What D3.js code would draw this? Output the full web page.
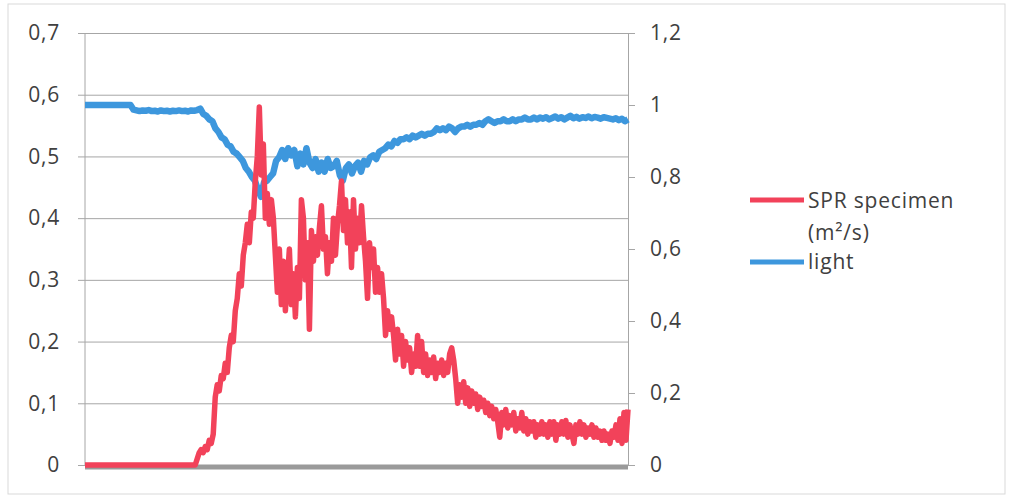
<!DOCTYPE html>
<html><head><meta charset="utf-8">
<script src="https://cdn.jsdelivr.net/npm/d3@7"></script>
<style>
html,body{margin:0;padding:0;background:#fff;}
svg text{font-family:"Open Sans",sans-serif;fill:#404040;letter-spacing:0.8px;}
</style></head>
<body><svg id="c" width="1010" height="497"></svg>
<script>
const leftTicks = [0,0.1,0.2,0.3,0.4,0.5,0.6,0.7];
const rightTicks = [0,0.2,0.4,0.6,0.8,1,1.2];
const seriesNames = ["SPR specimen", "(m²/s)", "light"];

// SPR specimen (m²/s), left axis
const spr = [
0,0,0,0,0,0,0,0,0,0, 0,0,0,0,0,0,0,0,0,0, 0,0,0,0,0,0,0,0,0,0,
0,0,0,0,0,0,0,0,0,0, 0,0,0,0,0,0,0,0,0,0, 0,0,0,0,0,0,
0.01,0.02,0.025,0.02,0.03,0.025,0.04,0.035,0.05,0.11,0.13,0.12,0.145,0.14,0.165,0.15,0.19,0.21,0.20,0.25,
0.27,0.31,0.29,0.34,0.36,0.39,0.36,0.41,0.40,0.46,0.50,0.58,0.47,0.52,0.40,0.44,0.39,0.43,0.40,0.34,
0.28,0.35,0.26,0.33,0.25,0.30,0.35,0.26,0.31,0.24,0.32,0.27,0.43,0.40,0.30,0.36,0.22,0.38,0.33,0.37,
0.34,0.385,0.42,0.35,0.37,0.31,0.36,0.33,0.40,0.34,0.39,0.42,0.46,0.38,0.43,0.36,0.41,0.32,0.43,0.35,
0.40,0.36,0.42,0.37,0.33,0.27,0.36,0.32,0.35,0.28,0.32,0.28,0.31,0.27,0.21,0.25,0.22,0.24,0.21,0.17,
0.22,0.18,0.21,0.16,0.20,0.17,0.19,0.15,0.18,0.16,0.21,0.16,0.20,0.15,0.18,0.145,0.17,0.15,0.175,0.14,
0.165,0.15,0.17,0.145,0.165,0.15,0.18,0.19,0.17,0.14,0.10,0.13,0.11,0.135,0.10,0.125,0.095,0.12,0.10,0.115,
0.09,0.11,0.095,0.105,0.085,0.10,0.08,0.095,0.075,0.09,0.07,0.045,0.085,0.065,0.09,0.06,0.08,0.065,0.085,0.055,
0.075,0.06,0.085,0.055,0.075,0.05,0.07,0.055,0.07,0.045,0.065,0.05,0.07,0.05,0.065,0.045,0.07,0.05,0.07,0.04,
0.065,0.05,0.07,0.05,0.072,0.045,0.065,0.05,0.035,0.065,0.05,0.07,0.05,0.065,0.045,0.06,0.05,0.065,0.045,0.06,
0.045,0.055,0.04,0.055,0.04,0.05,0.035,0.055,0.045,0.065,0.04,0.075,0.035,0.085,0.04,0.09
];

// light, right axis
const light = [
1,1,1,1,1,1,1,1,1,1, 1,1,1,1,1,1,
0.987,0.985,0.983,0.985,0.984,0.986,0.983,0.984,0.982,0.985,0.983,0.984,0.982,0.984,0.983,0.985,0.983,0.984,0.982,0.985,0.984,0.986,
0.99,0.975,0.97,0.96,0.955,0.935,0.925,0.91,0.905,0.89,0.885,0.87,0.865,0.855,0.845,0.825,0.815,0.80,0.79,0.765,
0.745,0.785,0.79,0.80,0.81,0.845,0.855,0.875,0.85,0.88,0.86,0.875,0.83,0.865,0.835,0.88,0.84,0.825,0.85,0.815,
0.84,0.815,0.85,0.825,0.83,0.845,0.805,0.79,0.825,0.835,0.81,0.83,0.84,0.815,0.845,0.835,0.855,0.86,0.85,0.87,
0.875,0.88,0.89,0.885,0.90,0.895,0.905,0.905,0.91,0.905,0.915,0.91,0.915,0.92,0.915,0.92,0.92,0.925,0.935,0.93,
0.935,0.93,0.94,0.935,0.925,0.935,0.94,0.94,0.945,0.94,0.945,0.945,0.95,0.945,0.955,0.96,0.955,0.95,0.955,0.955,
0.96,0.955,0.955,0.96,0.955,0.96,0.96,0.965,0.96,0.96,0.965,0.96,0.965,0.962,0.966,0.96,0.964,0.968,0.962,0.966,
0.96,0.965,0.97,0.963,0.967,0.962,0.966,0.964,0.968,0.963,0.967,0.965,0.962,0.966,0.964,0.962,0.96,0.963,0.958,0.962,
0.955,0.96
];

const svg = d3.select("#c");
const L = 85, R = 628, T = 33, B = 465;

svg.append("rect").attr("x",8).attr("y",4).attr("width",997).attr("height",490)
  .attr("fill","#fff").attr("stroke","#d9d9d9").attr("stroke-width",1);

const x = d3.scaleLinear().domain([0, 1]).range([L, R]);
const yL = d3.scaleLinear().domain([0,0.7]).range([B, T]);
const yR = d3.scaleLinear().domain([0,1.2]).range([B, T]);
const fmt = d => String(+d.toFixed(1)).replace(".", ",");

// gridlines + left axis
const gl = svg.append("g").attr("transform",`translate(${L},0)`)
  .call(d3.axisLeft(yL).tickValues(leftTicks).tickSize(-(R-L)).tickSizeOuter(0).tickPadding(25).tickFormat(fmt));
gl.select(".domain").remove();
gl.selectAll(".tick line").attr("stroke","#a6a6a6").attr("x1",-7);
gl.selectAll(".tick text").attr("font-size",21).attr("fill","#404040").style("font-family","Open Sans");

svg.append("line").attr("x1",L).attr("x2",L).attr("y1",T).attr("y2",B).attr("stroke","#a6a6a6");

// right axis
const gr = svg.append("g").attr("transform",`translate(${R},0)`)
  .call(d3.axisRight(yR).tickValues(rightTicks).tickSize(7).tickSizeOuter(0).tickPadding(15).tickFormat(fmt));
gr.select(".domain").attr("stroke","#a6a6a6");
gr.selectAll(".tick line").attr("stroke","#a6a6a6");
gr.selectAll(".tick text").attr("font-size",21).attr("fill","#404040").style("font-family","Open Sans");

// bottom zero bar
svg.append("line").attr("x1",L).attr("x2",R).attr("y1",B+2).attr("y2",B+2)
  .attr("stroke","#9a9a9a").attr("stroke-width",5);

const lineL = d3.line().x((d,i)=>x(i/(spr.length-1))).y(d=>yL(d));
const lineR = d3.line().x((d,i)=>x(i/(light.length-1))).y(d=>yR(d));

svg.append("path").datum(light).attr("d",lineR).attr("fill","none")
  .attr("stroke","#3d97dd").attr("stroke-width",6.5).attr("stroke-linejoin","round");
svg.append("path").datum(spr).attr("d",lineL).attr("fill","none")
  .attr("stroke","#f2425a").attr("stroke-width",5.5).attr("stroke-linejoin","round");

// legend
const lg = svg.append("g");
lg.append("line").attr("x1",750).attr("x2",804).attr("y1",200).attr("y2",200).attr("stroke","#f2425a").attr("stroke-width",5);
lg.append("text").attr("x",808).attr("y",208).attr("font-size",21).text(seriesNames[0]);
lg.append("text").attr("x",808).attr("y",240).attr("font-size",21).text(seriesNames[1]);
lg.append("line").attr("x1",750).attr("x2",804).attr("y1",262).attr("y2",262).attr("stroke","#3d97dd").attr("stroke-width",5);
lg.append("text").attr("x",808).attr("y",269).attr("font-size",21).text(seriesNames[2]);
</script></body></html>
